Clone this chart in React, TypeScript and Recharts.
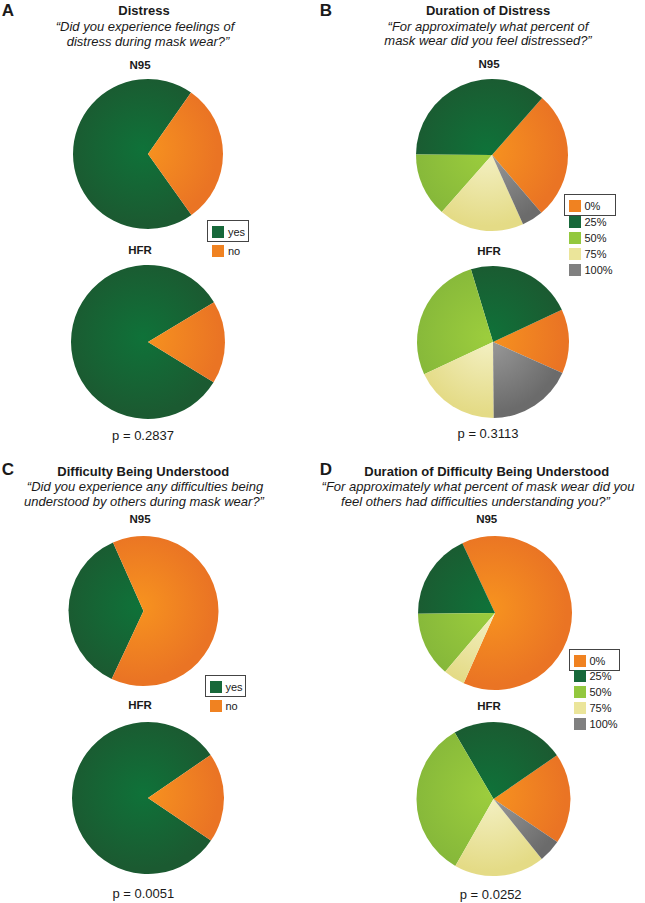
import React from 'react';
import { PieChart, Pie, Cell } from 'recharts';

// answer categories
const yesNoKeys = ['yes', 'no'];
const percentKeys = ['0%', '25%', '50%', '75%', '100%'];

// respondent counts
const distressN95 = [16, 7];
const distressHFR = [19, 4];
const understoodN95 = [8, 14];
const understoodHFR = [17, 4];
const durDistressN95 = [6, 8, 3, 4, 1];
const durDistressHFR = [3, 5, 6, 4, 4];
const durUnderstoodN95 = [14, 4, 3, 1, 0];
const durUnderstoodHFR = [4, 5, 7, 4, 1];

const pValues = ['p = 0.2837', 'p = 0.3113', 'p = 0.0051', 'p = 0.0252'];

const FONT = 'Arial, "Liberation Sans", Helvetica, sans-serif';

// [solid, center, edge]
const PALETTE: Record<string, [string, string, string]> = {
  orange: ['#f08221', '#f7931f', '#ea7424'],
  dkgreen: ['#17683a', '#0f7239', '#1b5a31'],
  ltgreen: ['#93c83e', '#9ccd3d', '#86b83a'],
  yellow: ['#ebe59a', '#f4f1c6', '#e4db86'],
  gray: ['#808080', '#9c9c9c', '#6b6b6b'],
};
const yesNoColors = ['dkgreen', 'orange'];
const percentColors = ['orange', 'dkgreen', 'ltgreen', 'yellow', 'gray'];

const toRows = (keys: string[], vals: number[]) => keys.map((k, i) => ({ name: k, value: vals[i] }));

const pies = [
  { id: 'aN', keys: yesNoKeys, vals: distressN95, colors: yesNoColors, cx: 143, cy: 149, r: 75, start: 55 },
  { id: 'aH', keys: yesNoKeys, vals: distressHFR, colors: yesNoColors, cx: 143, cy: 337, r: 77, start: 31 },
  { id: 'bN', keys: percentKeys, vals: durDistressN95, colors: percentColors, cx: 487, cy: 150, r: 76, start: -49.5 },
  { id: 'bH', keys: percentKeys, vals: durDistressHFR, colors: percentColors, cx: 488, cy: 337, r: 76, start: -24 },
  { id: 'cN', keys: yesNoKeys, vals: understoodN95, colors: yesNoColors, cx: 138.5, cy: 606, r: 75, start: 114 },
  { id: 'cH', keys: yesNoKeys, vals: understoodHFR, colors: yesNoColors, cx: 143, cy: 793, r: 76, start: 34.5 },
  { id: 'dN', keys: percentKeys, vals: durUnderstoodN95, colors: percentColors, cx: 490, cy: 608, r: 77, start: -114 },
  { id: 'dH', keys: percentKeys, vals: durUnderstoodHFR, colors: percentColors, cx: 488.5, cy: 794, r: 77, start: -34 },
];

type TProps = {
  x: number;
  y: number;
  size?: number;
  bold?: boolean;
  italic?: boolean;
  left?: boolean;
  children: React.ReactNode;
};

const T = ({ x, y, size = 13, bold, italic, left, children }: TProps) => (
  <div
    style={{
      position: 'absolute',
      left: x,
      top: y,
      transform: left ? 'translate(0,-50%)' : 'translate(-50%,-50%)',
      fontSize: size,
      lineHeight: 1,
      fontWeight: bold ? 700 : 400,
      fontStyle: italic ? 'italic' : 'normal',
      whiteSpace: 'nowrap',
      color: '#1a1a1a',
    }}
  >
    {children}
  </div>
);

const Legend = ({ x, y, keys, colors, boxW, gap }: { x: number; y: number; keys: string[]; colors: string[]; boxW: number; gap: number }) => (
  <>
    <div
      style={{
        position: 'absolute',
        left: x - 5,
        top: y - 12,
        width: boxW,
        height: 22,
        border: '1.3px solid #444',
        boxSizing: 'border-box',
      }}
    />
    {keys.map((k, i) => (
      <React.Fragment key={k}>
        <div
          style={{
            position: 'absolute',
            left: x,
            top: y + i * gap - 6,
            width: 12,
            height: 12,
            background: PALETTE[colors[i]][0],
          }}
        />
        <T x={x + 16} y={y + i * gap} size={11} left>
          {k}
        </T>
      </React.Fragment>
    ))}
  </>
);

export default function App() {
  return (
    <div
      style={{
        position: 'absolute',
        left: 0,
        top: 0,
        width: 645,
        height: 903,
        background: '#fff',
        fontFamily: FONT,
        overflow: 'hidden',
      }}
    >
      <div style={{ position: 'absolute', left: 0, top: 0 }}>
        <PieChart width={645} height={903}>
          <defs>
            {pies.map((p) =>
              Object.keys(PALETTE).map((c) => (
                <radialGradient
                  key={`${p.id}-${c}`}
                  id={`g-${p.id}-${c}`}
                  gradientUnits="userSpaceOnUse"
                  cx={p.cx}
                  cy={p.cy}
                  r={p.r}
                >
                  <stop offset="0%" stopColor={PALETTE[c][1]} />
                  <stop offset="100%" stopColor={PALETTE[c][2]} />
                </radialGradient>
              ))
            )}
          </defs>
          {pies.map((p) => (
            <Pie
              key={p.id}
              data={toRows(p.keys, p.vals)}
              dataKey="value"
              nameKey="name"
              cx={p.cx}
              cy={p.cy}
              innerRadius={0}
              outerRadius={p.r}
              startAngle={p.start}
              endAngle={p.start + 360}
              stroke="none"
              isAnimationActive={false}
            >
              {p.keys.map((k, i) => (
                <Cell key={k} fill={`url(#g-${p.id}-${p.colors[i]})`} />
              ))}
            </Pie>
          ))}
        </PieChart>
      </div>

      {/* panel A */}
      <T x={8} y={9.5} size={17} bold>A</T>
      <T x={144} y={10} bold>Distress</T>
      <T x={145} y={25.5} italic>“Did you experience feelings of</T>
      <T x={148} y={40.5} italic>distress during mask wear?”</T>
      <T x={140} y={65.5} size={11.5} bold>N95</T>
      <T x={140} y={251} size={11.5} bold>HFR</T>
      <Legend x={212} y={232} keys={yesNoKeys} colors={yesNoColors} boxW={42} gap={19} />
      <T x={143} y={435}>{pValues[0]}</T>

      {/* panel B */}
      <T x={326} y={9.5} size={17} bold>B</T>
      <T x={488} y={10} bold>Duration of Distress</T>
      <T x={488} y={25.7} italic>“For approximately what percent of</T>
      <T x={488} y={40.3} italic>mask wear did you feel distressed?”</T>
      <T x={489} y={65} size={11.5} bold>N95</T>
      <T x={489} y={251.7} size={11.5} bold>HFR</T>
      <Legend x={568.5} y={205.5} keys={percentKeys} colors={percentColors} boxW={52} gap={16} />
      <T x={488} y={433}>{pValues[1]}</T>

      {/* panel C */}
      <T x={8} y={469} size={17} bold>C</T>
      <T x={143.3} y={471} bold>Difficulty Being Understood</T>
      <T x={145} y={486} italic>“Did you experience any difficulties being</T>
      <T x={144} y={500.7} italic>understood by others during mask wear?”</T>
      <T x={140} y={520} size={11.5} bold>N95</T>
      <T x={140} y={706} size={11.5} bold>HFR</T>
      <Legend x={209.5} y={687} keys={yesNoKeys} colors={yesNoColors} boxW={41} gap={18.5} />
      <T x={143.3} y={893}>{pValues[2]}</T>

      {/* panel D */}
      <T x={326} y={469} size={17} bold>D</T>
      <T x={486.7} y={471} bold>Duration of Difficulty Being Understood</T>
      <T x={478} y={486} italic>“For approximately what percent of mask wear did you</T>
      <T x={475.5} y={500.7} italic>feel others had difficulties understanding you?”</T>
      <T x={486.7} y={520} size={11.5} bold>N95</T>
      <T x={489} y={706.7} size={11.5} bold>HFR</T>
      <Legend x={573.5} y={660.5} keys={percentKeys} colors={percentColors} boxW={51} gap={15.9} />
      <T x={490.7} y={894}>{pValues[3]}</T>
    </div>
  );
}
